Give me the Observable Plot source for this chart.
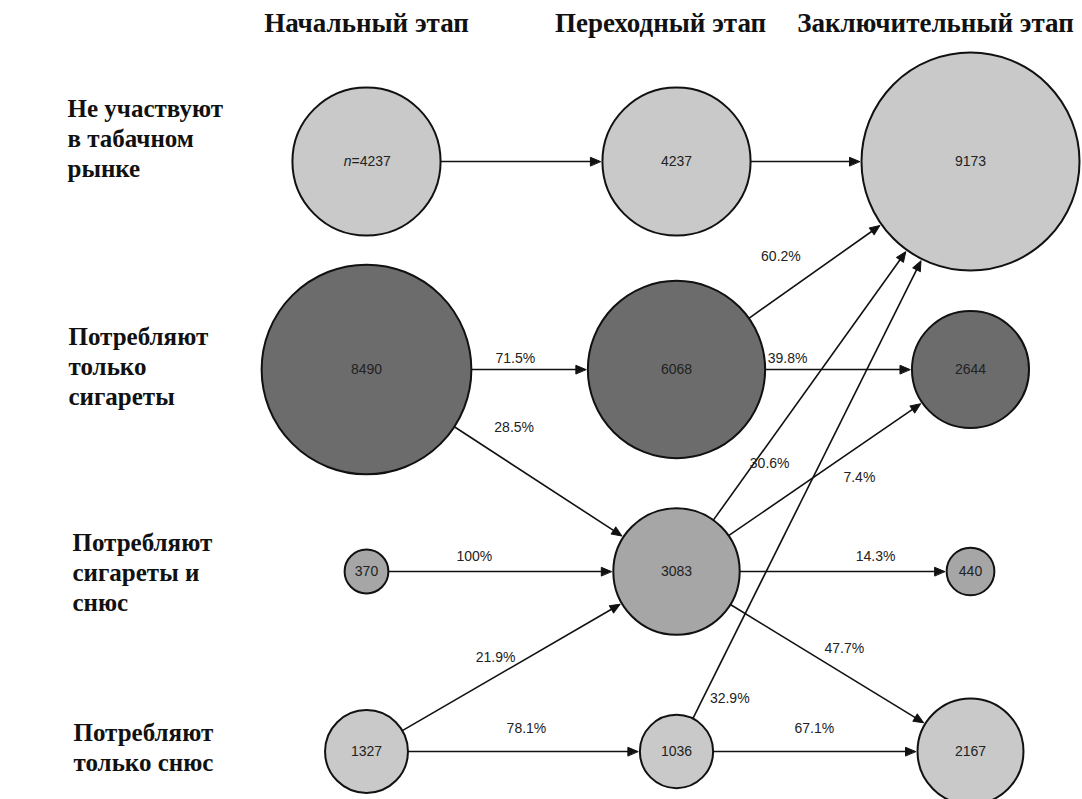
<!DOCTYPE html>
<html><head><meta charset="utf-8">
<script src="https://cdn.jsdelivr.net/npm/d3@7"></script>
<script src="https://cdn.jsdelivr.net/npm/@observablehq/plot@0.6"></script>
<style>body{margin:0;background:#fff;overflow:hidden}</style>
</head><body><div id="chart"></div>
<script>
// ---- data ----
const stages = ["Начальный этап", "Переходный этап", "Заключительный этап"];
const groups = ["Не участвуют\nв табачном\nрынке", "Потребляют\nтолько\nсигареты", "Потребляют\nсигареты и\nснюс", "Потребляют\nтолько снюс"];
const nodeStage = [0, 0, 0, 0, 1, 1, 1, 1, 2, 2, 2, 2];
const nodeGroup = [0, 1, 2, 3, 0, 1, 2, 3, 0, 1, 2, 3];
const nodeValue = [4237, 8490, 370, 1327, 4237, 6068, 3083, 1036, 9173, 2644, 440, 2167];
const linkSource = [0, 4, 1, 1, 5, 5, 2, 6, 6, 6, 6, 3, 3, 7, 7];
const linkTarget = [4, 8, 5, 6, 8, 9, 6, 8, 9, 10, 11, 6, 7, 8, 11];
const linkPercent = [null, null, 71.5, 28.5, 60.2, 39.8, 100, 30.6, 7.4, 14.3, 47.7, 21.9, 78.1, 32.9, 67.1];

// ---- layout / style ----
const W = 1082, H = 799;
const groupColors = ["#c9c9c9", "#6c6c6c", "#a6a6a6", "#c9c9c9"];
const colPos = d3.scaleLinear([0, 1, 2], [366, 676, 970]);       // stage -> layout x
const rowPos = d3.scaleLinear([0, 1, 2, 3], [161, 369, 571, 751]); // group -> layout y
const rOpts = {type: "sqrt", domain: [0, 9173], range: [0, 109]};
const rPx = d3.scaleSqrt(rOpts.domain, rOpts.range);
// label placement along each link: fraction t, perpendicular offset n (px)
const labelT = [0, 0, 0.48, 0.42, 0.418, 0.378, 0.348, 0.281, 0.572, 0.677, 0.532, 0.443, 0.516, 0.108, 0.469];
const labelN = [0, 0, 11, 32, 32, 11, 15, -13, -26, 15, 22, 16.5, 23, -24, 23];
const headerDx = [0, -16, -35];
const headerBaseline = 31;
const rowIndent = [67, 68, 72, 73];
const rowFirstBaseline = [113, 341, 547, 737];
const serifFont = "Liberation Serif";
const sansFont = "Liberation Sans";
const headSize = 27, rowSize = 25;

const nodes = nodeValue.map((v, i) => ({
  stage: nodeStage[i], group: nodeGroup[i], value: v, gname: groups[nodeGroup[i]],
  x: colPos(nodeStage[i]), y: rowPos(nodeGroup[i])
}));

const links = linkSource.map((s, i) => {
  const a = nodes[s], b = nodes[linkTarget[i]];
  const dx = b.x - a.x, dy = b.y - a.y, len = Math.hypot(dx, dy);
  const ux = dx / len, uy = dy / len;
  const rs = rPx(a.value), rt = rPx(b.value) + 2;
  const tipx = b.x - ux * rt, tipy = b.y - uy * rt;
  const t = labelT[i], n = labelN[i];
  return {
    x1: a.x + ux * rs, y1: a.y + uy * rs,
    x2: tipx - ux * 5, y2: tipy - uy * 5,
    tx: tipx, ty: tipy,
    rotate: Math.atan2(ux, -uy) * 180 / Math.PI,
    lx: a.x + ux * len * t + uy * n, ly: a.y + uy * len * t - ux * n,
    label: linkPercent[i] == null ? null : (linkPercent[i] === 100 ? "100%" : linkPercent[i].toFixed(1) + "%")
  };
});

const head = {
  draw(context, l) {
    const w = 4.2;
    context.moveTo(0, -l);
    context.lineTo(-w, 0);
    context.lineTo(w, 0);
    context.closePath();
  }
};

const first = nodes.filter(d => d.stage === 0 && d.group === 0);
const marks = [
  // links
  Plot.link(links, {x1: "x1", y1: "y1", x2: "x2", y2: "y2", stroke: "#111", strokeWidth: 1.6}),
  Plot.vector(links, {x: "tx", y: "ty", rotate: "rotate", length: 10, anchor: "end", shape: head, fill: "#111", stroke: "#111", strokeWidth: 1}),
  // nodes
  Plot.dot(nodes, {x: "x", y: "y", r: "value", fill: "gname", stroke: "#111", strokeWidth: 2, sort: null}),
  // text marks (order matters for font styling below)
  Plot.text(nodes.filter(d => !(d.stage === 0 && d.group === 0)), {x: "x", y: "y", text: d => String(d.value), fontSize: 14, fill: "#222", fontFamily: sansFont}),
  Plot.text(first, {x: "x", y: "y", text: d => "=" + d.value, textAnchor: "start", dx: -15, fontSize: 14, fill: "#222", fontFamily: sansFont}),
  Plot.text(first, {x: "x", y: "y", text: () => "n", textAnchor: "end", dx: -15, fontSize: 14, fill: "#222", fontStyle: "italic", fontFamily: sansFont}),
  Plot.text(links.filter(d => d.label), {x: "lx", y: "ly", text: "label", fontSize: 14, fill: "#222", fontFamily: sansFont}),
  Plot.text(stages, {x: (d, i) => colPos(i) + headerDx[i], frameAnchor: "top", dy: headerBaseline - 0.71 * headSize, lineAnchor: "top", text: d => d, fontSize: headSize, fontWeight: "bold", fontFamily: serifFont, fill: "#111"}),
  Plot.text(groups, {x: (d, i) => rowIndent[i], y: (d, i) => rowFirstBaseline[i] - 0.71 * rowSize, lineAnchor: "top", textAnchor: "start", lineHeight: 1.2, text: d => d, fontSize: rowSize, fontWeight: "bold", fontFamily: serifFont, fill: "#111"})
];

const chart = Plot.plot({
  width: W, height: H,
  margin: 0,
  x: {type: "linear", domain: [0, W], range: [0, W], axis: null},
  y: {type: "linear", domain: [0, H], range: [0, H], axis: null},
  r: rOpts,
  color: {domain: groups, range: groupColors},
  marks
});

// enforce font families directly on the rendered text elements
const textGroups = d3.select(chart).selectAll("g").filter(function () {
  return this.querySelector(":scope > text") !== null;
}).nodes();
textGroups.forEach((g, i) => {
  const fam = i >= textGroups.length - 2 ? serifFont : sansFont;
  d3.select(g).style("font-family", fam);
  d3.select(g).selectAll("text, tspan").style("font-family", fam);
});

document.getElementById("chart").appendChild(chart);
</script>
</body></html>
